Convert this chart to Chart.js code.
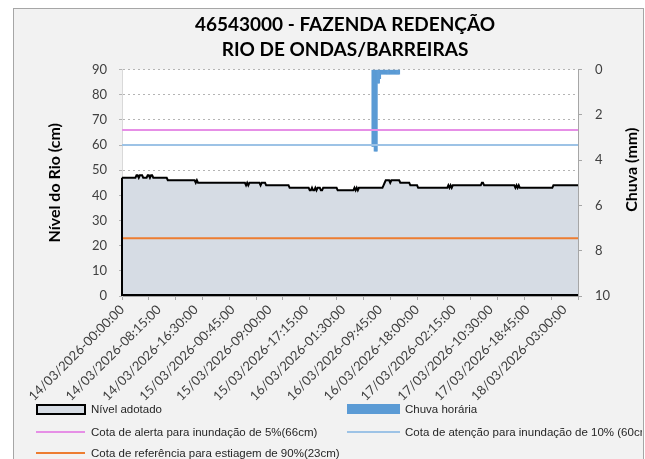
<!DOCTYPE html>
<html>
<head>
<meta charset="utf-8">
<script src="https://cdn.jsdelivr.net/npm/chart.js@4"></script>
<style>
    body { margin: 0; background: #fff; }
    #box {
        position: absolute; left: 13px; top: 8px; width: 629px; height: 460px;
        background: #f2f2f2; border: 1px solid #a6a6a6; border-bottom: none;
    }
    #myChart { position: absolute; left: 0; top: 0; }
    #legend {
        position: absolute; left: 13px; top: 400px; width: 629px; height: 59px;
        overflow: hidden; font-family: "Liberation Sans", Arial, sans-serif;
        font-size: 11.5px; color: #262626;
    }
    .item { position: absolute; height: 16px; line-height: 16px; white-space: nowrap; }
    .item span { position: absolute; left: 55px; top: 0; }
    .sw { position: absolute; left: 0; width: 49px; }
</style>
</head>
<body>
<div id="box"></div>
<canvas id="myChart" width="645" height="459"></canvas>
<div id="legend">
    <div class="item" style="left:23px;top:1px"><div class="sw" style="top:3px;height:7px;background:#d6dce4;border:2px solid #000;width:46px"></div><span>Nível adotado</span></div>
    <div class="item" style="left:334px;top:1px"><div class="sw" style="top:3px;height:10px;background:#5b9bd5;width:53px"></div><span style="left:58px">Chuva horária</span></div>
    <div class="item" style="left:23px;top:24px"><div class="sw" style="top:7px;height:2px;background:#e68fe6"></div><span>Cota de alerta para inundação de 5%(66cm)</span></div>
    <div class="item" style="left:334px;top:24px"><div class="sw" style="top:7px;height:2px;background:#9dc3e6;width:53px"></div><span style="left:58px">Cota de atenção para inundação de 10% (60cm)</span></div>
    <div class="item" style="left:23px;top:45px"><div class="sw" style="top:7px;height:2px;background:#ed7d31"></div><span>Cota de referência para estiagem de 90%(23cm)</span></div>
</div>
<script>
// rotulos do eixo x (um a cada 33 leituras de 15 min)
const xTickLabels = [
    '14/03/2026-00:00:00', '14/03/2026-08:15:00', '14/03/2026-16:30:00',
    '15/03/2026-00:45:00', '15/03/2026-09:00:00', '15/03/2026-17:15:00',
    '16/03/2026-01:30:00', '16/03/2026-09:45:00', '16/03/2026-18:00:00',
    '17/03/2026-02:15:00', '17/03/2026-10:30:00', '17/03/2026-18:45:00',
    '18/03/2026-03:00:00'
];
const labelEvery = 33;
const tickEvery = 24;

// nivel adotado (cm) - [quantidade de leituras, valor]
const levelRuns = [
    [13, 47], [2, 48], [1, 47], [3, 48], [4, 47], [2, 48], [1, 47], [2, 48], [13, 47],
    [25, 46], [1, 45], [1, 46], [43, 45], [1, 44], [1, 45], [1, 44], [10, 45], [1, 44], [4, 45],
    [21, 44], [18, 43], [2, 42], [1, 43], [2, 42], [1, 43], [1, 42], [3, 43], [2, 42], [13, 43],
    [15, 42], [1, 43], [1, 42], [1, 43], [1, 42], [22, 43], [1, 44], [1, 45], [4, 46], [1, 45],
    [8, 46], [9, 45], [7, 44], [27, 43], [1, 44], [1, 43], [1, 44], [1, 43], [26, 44], [2, 45],
    [28, 44], [1, 43], [1, 44], [1, 43], [1, 44], [30, 43], [23, 44]
];

// chuva horaria (mm) - [quantidade de leituras, valor]
const rainRuns = [
    [224, null], [2, 3.4], [3, 3.6], [2, 0.6], [1, 0.4], [17, 0.2], [160, null]
];

const cotaAlerta = 66;
const cotaAtencao = 60;
const cotaEstiagem = 23;

function expand(runs) {
    const out = [];
    runs.forEach(([n, v]) => {
        for (let k = 0; k < n; k++) out.push(v);
    });
    return out;
}

const levelValues = expand(levelRuns);
const rainValues = expand(rainRuns);
const categories = levelValues.map((v, i) => i);

const bgPlugin = {
    id: 'bg',
    beforeDraw(chart) {
        const a = chart.chartArea;
        chart.ctx.save();
        chart.ctx.fillStyle = '#fff';
        chart.ctx.fillRect(a.left, a.top, a.width, a.height);
        chart.ctx.restore();
    },
    afterDatasetsDraw(chart) {
        // contorno da area (lado esquerdo e base)
        const x = chart.scales.x, y = chart.scales.y;
        const ctx = chart.ctx;
        ctx.save();
        ctx.strokeStyle = '#000';
        ctx.lineWidth = 2;
        ctx.beginPath();
        ctx.moveTo(x.getPixelForValue(0), y.getPixelForValue(levelValues[0]));
        ctx.lineTo(x.getPixelForValue(0), y.getPixelForValue(0) - 1);
        ctx.lineTo(x.getPixelForValue(levelValues.length - 1), y.getPixelForValue(0) - 1);
        ctx.stroke();
        // titulo do eixo da chuva
        const r = chart.scales.y1;
        ctx.translate(r.right - 13, (chart.chartArea.top + chart.chartArea.bottom) / 2 - 13);
        ctx.rotate(-Math.PI / 2);
        ctx.font = 'bold 16px Lato';
        ctx.fillStyle = '#000';
        ctx.textAlign = 'center';
        ctx.textBaseline = 'middle';
        ctx.fillText('Chuva (mm)', 0, 0);
        ctx.restore();
    }
};

const tickFont = { family: 'Lato', size: 13 };

const ctx = document.getElementById('myChart');

new Chart(ctx, {
    type: 'bar',
    data: {
        labels: categories,
        datasets: [{
            type: 'line',
            label: 'Cota de alerta para inundação de 5%(66cm)',
            data: levelValues.map(() => cotaAlerta),
            borderColor: '#e68fe6',
            borderWidth: 2,
            pointRadius: 0,
            order: 1
        }, {
            type: 'line',
            label: 'Cota de atenção para inundação de 10% (60cm)',
            data: levelValues.map(() => cotaAtencao),
            borderColor: '#9dc3e6',
            borderWidth: 2,
            pointRadius: 0,
            order: 1
        }, {
            type: 'line',
            label: 'Cota de referência para estiagem de 90%(23cm)',
            data: levelValues.map(() => cotaEstiagem),
            borderColor: '#ed7d31',
            borderWidth: 2,
            pointRadius: 0,
            order: 1
        }, {
            label: 'Chuva horária',
            data: rainValues,
            yAxisID: 'y1',
            backgroundColor: '#5b9bd5',
            barPercentage: 1,
            categoryPercentage: 1,
            order: 2
        }, {
            type: 'line',
            label: 'Nível adotado',
            data: levelValues,
            borderColor: '#000',
            borderWidth: 2,
            backgroundColor: '#d6dce4',
            fill: 'origin',
            pointRadius: 0,
            order: 3
        }]
    },
    plugins: [bgPlugin],
    options: {
        responsive: false,
        animation: false,
        layout: { padding: { left: 45, right: 0, top: 0, bottom: 0 } },
        plugins: {
            legend: { display: false },
            tooltip: { enabled: false },
            title: {
                display: true,
                text: ['46543000 - FAZENDA REDENÇÃO', 'RIO DE ONDAS/BARREIRAS'],
                color: '#000',
                font: { family: 'Lato', size: 19, weight: 'bold', lineHeight: 1.33 },
                padding: { top: 12, bottom: 7 }
            }
        },
        scales: {
            x: {
                offset: false,
                grid: {
                    offset: false,
                    drawOnChartArea: false,
                    tickLength: 4,
                    color: c => c.index % tickEvery === 0 ? '#a6a6a6' : 'rgba(0,0,0,0)'
                },
                border: { color: '#a6a6a6' },
                ticks: {
                    autoSkip: false,
                    minRotation: 45,
                    maxRotation: 45,
                    padding: 2,
                    color: '#404040',
                    font: tickFont,
                    callback: (v, i) => i % labelEvery === 0 ? xTickLabels[i / labelEvery] : ''
                },
                afterFit(scale) {
                    scale.height = 163;
                    scale.paddingLeft = 0;
                    scale.paddingRight = 0;
                }
            },
            y: {
                position: 'left',
                min: 0,
                max: 90,
                ticks: { stepSize: 10, padding: 12, color: '#404040', font: tickFont },
                grid: { color: '#b4b4b4', tickLength: 3 },
                border: { color: '#d9d9d9', dash: [2, 3] },
                title: {
                    display: true,
                    text: 'Nível do Rio (cm)',
                    color: '#000',
                    font: { family: 'Lato', size: 16, weight: 'bold' },
                    padding: 0
                },
                afterFit(scale) {
                    scale.width = 77;
                }
            },
            y1: {
                position: 'right',
                reverse: true,
                min: 0,
                max: 10,
                ticks: { stepSize: 2, padding: 13, color: '#404040', font: tickFont },
                grid: { drawOnChartArea: false, tickLength: 4, color: '#a6a6a6' },
                border: { color: '#a6a6a6' },
                afterFit(scale) {
                    scale.width = 67;
                }
            }
        }
    }
});
</script>
</body>
</html>
